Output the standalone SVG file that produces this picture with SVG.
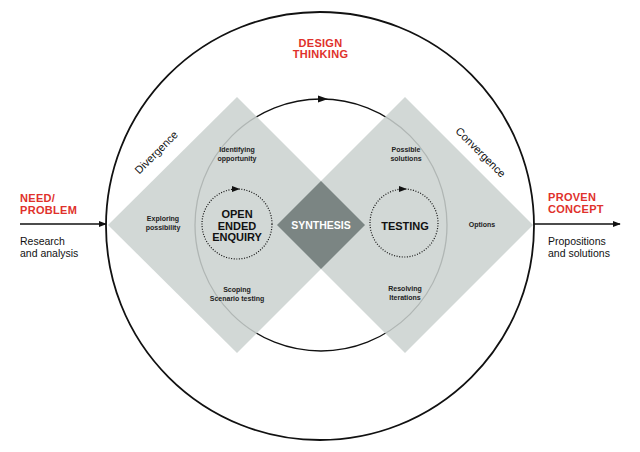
<svg xmlns="http://www.w3.org/2000/svg" width="640" height="452" viewBox="0 0 640 452">
<defs>
<style>
.red{font-family:"Liberation Sans",Arial,sans-serif;font-weight:bold;font-size:11px;fill:#e0312b;letter-spacing:0.3px}
.reg{font-family:"Liberation Sans",Arial,sans-serif;font-size:10.5px;fill:#111}
.sm{font-family:"Liberation Sans",Arial,sans-serif;font-weight:bold;font-size:7px;fill:#222;text-anchor:middle}
.big{font-family:"Liberation Sans",Arial,sans-serif;font-weight:bold;font-size:11px;fill:#111;text-anchor:middle}
.dia{fill:#cbd2cf;fill-opacity:0.86}
.dot{fill:none;stroke:#111;stroke-width:1.2;stroke-dasharray:1 1.6}
</style>
<marker id="ah" viewBox="0 0 10 10" refX="9" refY="5" markerWidth="8" markerHeight="8" markerUnits="userSpaceOnUse" orient="auto">
<path d="M0,1 L10,5 L0,9 z" fill="#111"/>
</marker>
</defs>
<rect width="640" height="452" fill="#fff"/>
<g id="outer-circle"><circle cx="320" cy="226" r="214" fill="none" stroke="#111" stroke-width="1.8"/></g>
<g id="connectors">
<circle cx="321" cy="225" r="126" fill="none" stroke="#111" stroke-width="1.3"/>
<line x1="20" y1="224" x2="106" y2="224" stroke="#111" stroke-width="1.3" marker-end="url(#ah)"/>
<line x1="534" y1="224" x2="620" y2="224" stroke="#111" stroke-width="1.3" marker-end="url(#ah)"/>
</g>
<g id="divergence"><polygon class="dia" points="108,225 237,97 365,225 237,353"/></g>
<g id="convergence"><polygon class="dia" points="277,225 405,97 533,225 405,353"/></g>
<g id="top-arrow"><path d="M318,95.5 L328,99 L318,102.5 z" fill="#111"/></g>
<g id="synthesis">
<polygon points="277,225 321,181 365,225 321,269" fill="#7b8583"/>
<text x="321" y="229" class="big" style="fill:#fff;font-size:10.5px">SYNTHESIS</text>
</g>
<g id="design-thinking">
<text class="red" x="320.5" y="47" text-anchor="middle">DESIGN</text>
<text class="red" x="320.5" y="58" text-anchor="middle">THINKING</text>
</g>
<g id="need">
<text class="red" x="20" y="202">NEED/</text>
<text class="red" x="20" y="214">PROBLEM</text>
<text class="reg" x="20" y="245">Research</text>
<text class="reg" x="20" y="257">and analysis</text>
</g>
<g id="proven">
<text class="red" x="548" y="201">PROVEN</text>
<text class="red" x="548" y="213">CONCEPT</text>
<text class="reg" x="548" y="245">Propositions</text>
<text class="reg" x="548" y="257">and solutions</text>
</g>
<g id="divergence-label"><text class="reg" transform="translate(159,155) rotate(-45)" text-anchor="middle" style="font-size:11px">Divergence</text></g>
<g id="convergence-label"><text class="reg" transform="translate(478,155) rotate(45)" text-anchor="middle" style="font-size:11px">Convergence</text></g>
<g id="open-ended-enquiry">
<circle class="dot" cx="237" cy="224" r="35"/>
<path d="M232,186 L240,189 L232,192 z" fill="#111"/>
<text class="big" x="237" y="218">OPEN</text>
<text class="big" x="237" y="229.5">ENDED</text>
<text class="big" x="237" y="241">ENQUIRY</text>
</g>
<g id="testing">
<circle class="dot" cx="404" cy="223" r="34"/>
<path d="M399,186 L407,189 L399,192 z" fill="#111"/>
<text class="big" x="405" y="230">TESTING</text>
</g>
<g id="labels">
<text class="sm" x="237" y="152">Identifying</text>
<text class="sm" x="237" y="161">opportunity</text>
<text class="sm" x="163" y="221">Exploring</text>
<text class="sm" x="163" y="230">possibility</text>
<text class="sm" x="237" y="292">Scoping</text>
<text class="sm" x="237" y="301">Scenario testing</text>
<text class="sm" x="406" y="152">Possible</text>
<text class="sm" x="406" y="161">solutions</text>
<text class="sm" x="482" y="227">Options</text>
<text class="sm" x="405" y="291">Resolving</text>
<text class="sm" x="405" y="300">Iterations</text>
</g>
</svg>
